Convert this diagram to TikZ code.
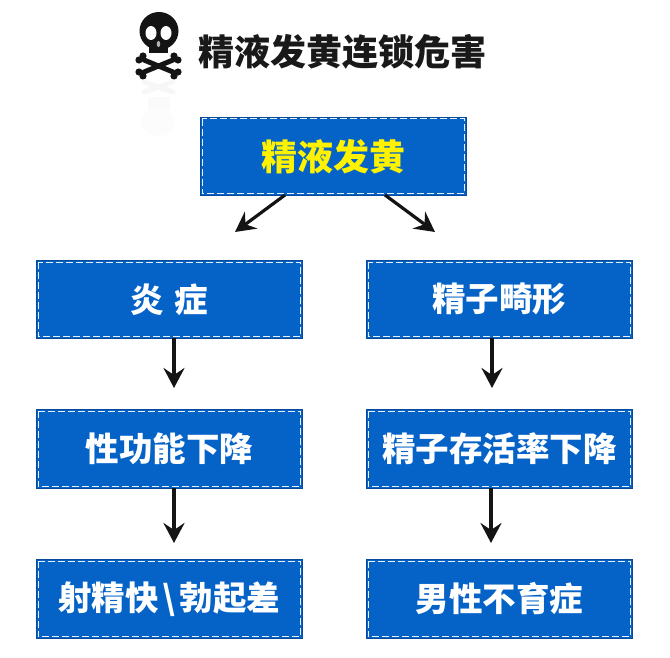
\documentclass[tikz,border=0pt]{standalone}
\usepackage{fontspec}
\newfontfamily\cjk{Noto Sans CJK SC}
\usetikzlibrary{arrows.meta}
\definecolor{boxblue}{HTML}{0563C8}
\definecolor{boxedge}{HTML}{0A4A9A}
\tikzset{
  x=1pt,y=-1pt,
  flowbox/.style={draw=boxedge,line width=.8pt,fill=boxblue,minimum width=266pt,minimum height=78pt,inner sep=0pt,
    text=white,font=\cjk\bfseries\fontsize{33.5}{36}\selectfont,anchor=north west},
  inset/.style={draw=white!92!boxblue,line width=1pt,dash pattern=on 7pt off 3pt},
  flowarrow/.style={draw=black!92,line width=3.2pt,-{Stealth[inset=7pt,length=20pt,width=21pt]}},
  bone/.style={line width=5pt,line cap=round},
}
\begin{document}
\begin{tikzpicture}
\useasboundingbox (0,0) rectangle (670,658);
% skull and crossbones
\fill[black!92] (159,31) ellipse (19.5 and 19);
\fill[black!92] (149,40) rectangle (168,53);
\draw[black!92,bone] (144,60) -- (173,72);
\draw[black!92,bone] (173,60) -- (144,72);
\foreach \x/\y in {143/56,139/60,174/56,178/60,143/76,139/72,174/76,178/72}
  \fill[black!92] (\x,\y) circle (3.6);
\fill[white] (151,33) ellipse (5.5 and 7);
\fill[white] (166,33) ellipse (5.5 and 7);
\fill[white!70!black] (158.5,44) ellipse (1.8 and 3);
% faint reflection
\draw[black!3,bone] (144,92) -- (173,82);
\draw[black!3,bone] (173,92) -- (144,82);
\fill[black!2] (148,97) rectangle (170,110);
\fill[black!1] (158,122) ellipse (17 and 14);
% title
\node[inner sep=0pt,anchor=center,font=\cjk\bfseries\fontsize{36}{38}\selectfont,text=black!90] (title) at (342,52) {精液发黄连锁危害};
% boxes
\node[flowbox] (top) at (200,117) {\fontsize{36}{38}\selectfont\textcolor{yellow}{精液发黄}};
\node[flowbox] (l1) at (36,260) {炎\hspace{11pt}症};
\node[flowbox] (r1) at (366,260) {精子畸形};
\node[flowbox,minimum height=79pt] (l2) at (36,409) {性功能下降};
\node[flowbox,minimum height=79pt] (r2) at (366,409) {精子存活率下降};
\node[flowbox,minimum height=79pt] (l3) at (36,559) {射精快\hspace{4pt}\textbackslash\hspace{4pt}勃起差};
\node[flowbox,minimum height=79pt] (r3) at (366,559) {男性不育症};
\foreach \n in {top,l1,r1,l2,r2,l3,r3}
  \draw[inset] ([shift={(2,2)}]\n.north west) rectangle ([shift={(-2,-2)}]\n.south east);
% connectors
\coordinate (tl) at (285,195);
\coordinate (tr) at (385,195);
\coordinate (el) at (235,232);
\coordinate (er) at (435,232);
\draw[flowarrow] (tl) -- (el);
\draw[flowarrow] (tr) -- (er);
\coordinate (a1) at (174,338);
\coordinate (b1) at (174,388);
\coordinate (a2) at (174,488);
\coordinate (b2) at (174,543);
\coordinate (c1) at (492,338);
\coordinate (d1) at (492,388);
\coordinate (c2) at (491,488);
\coordinate (d2) at (491,543);
\draw[flowarrow] (a1) -- (b1);
\draw[flowarrow] (a2) -- (b2);
\draw[flowarrow] (c1) -- (d1);
\draw[flowarrow] (c2) -- (d2);
\end{tikzpicture}
\end{document}
